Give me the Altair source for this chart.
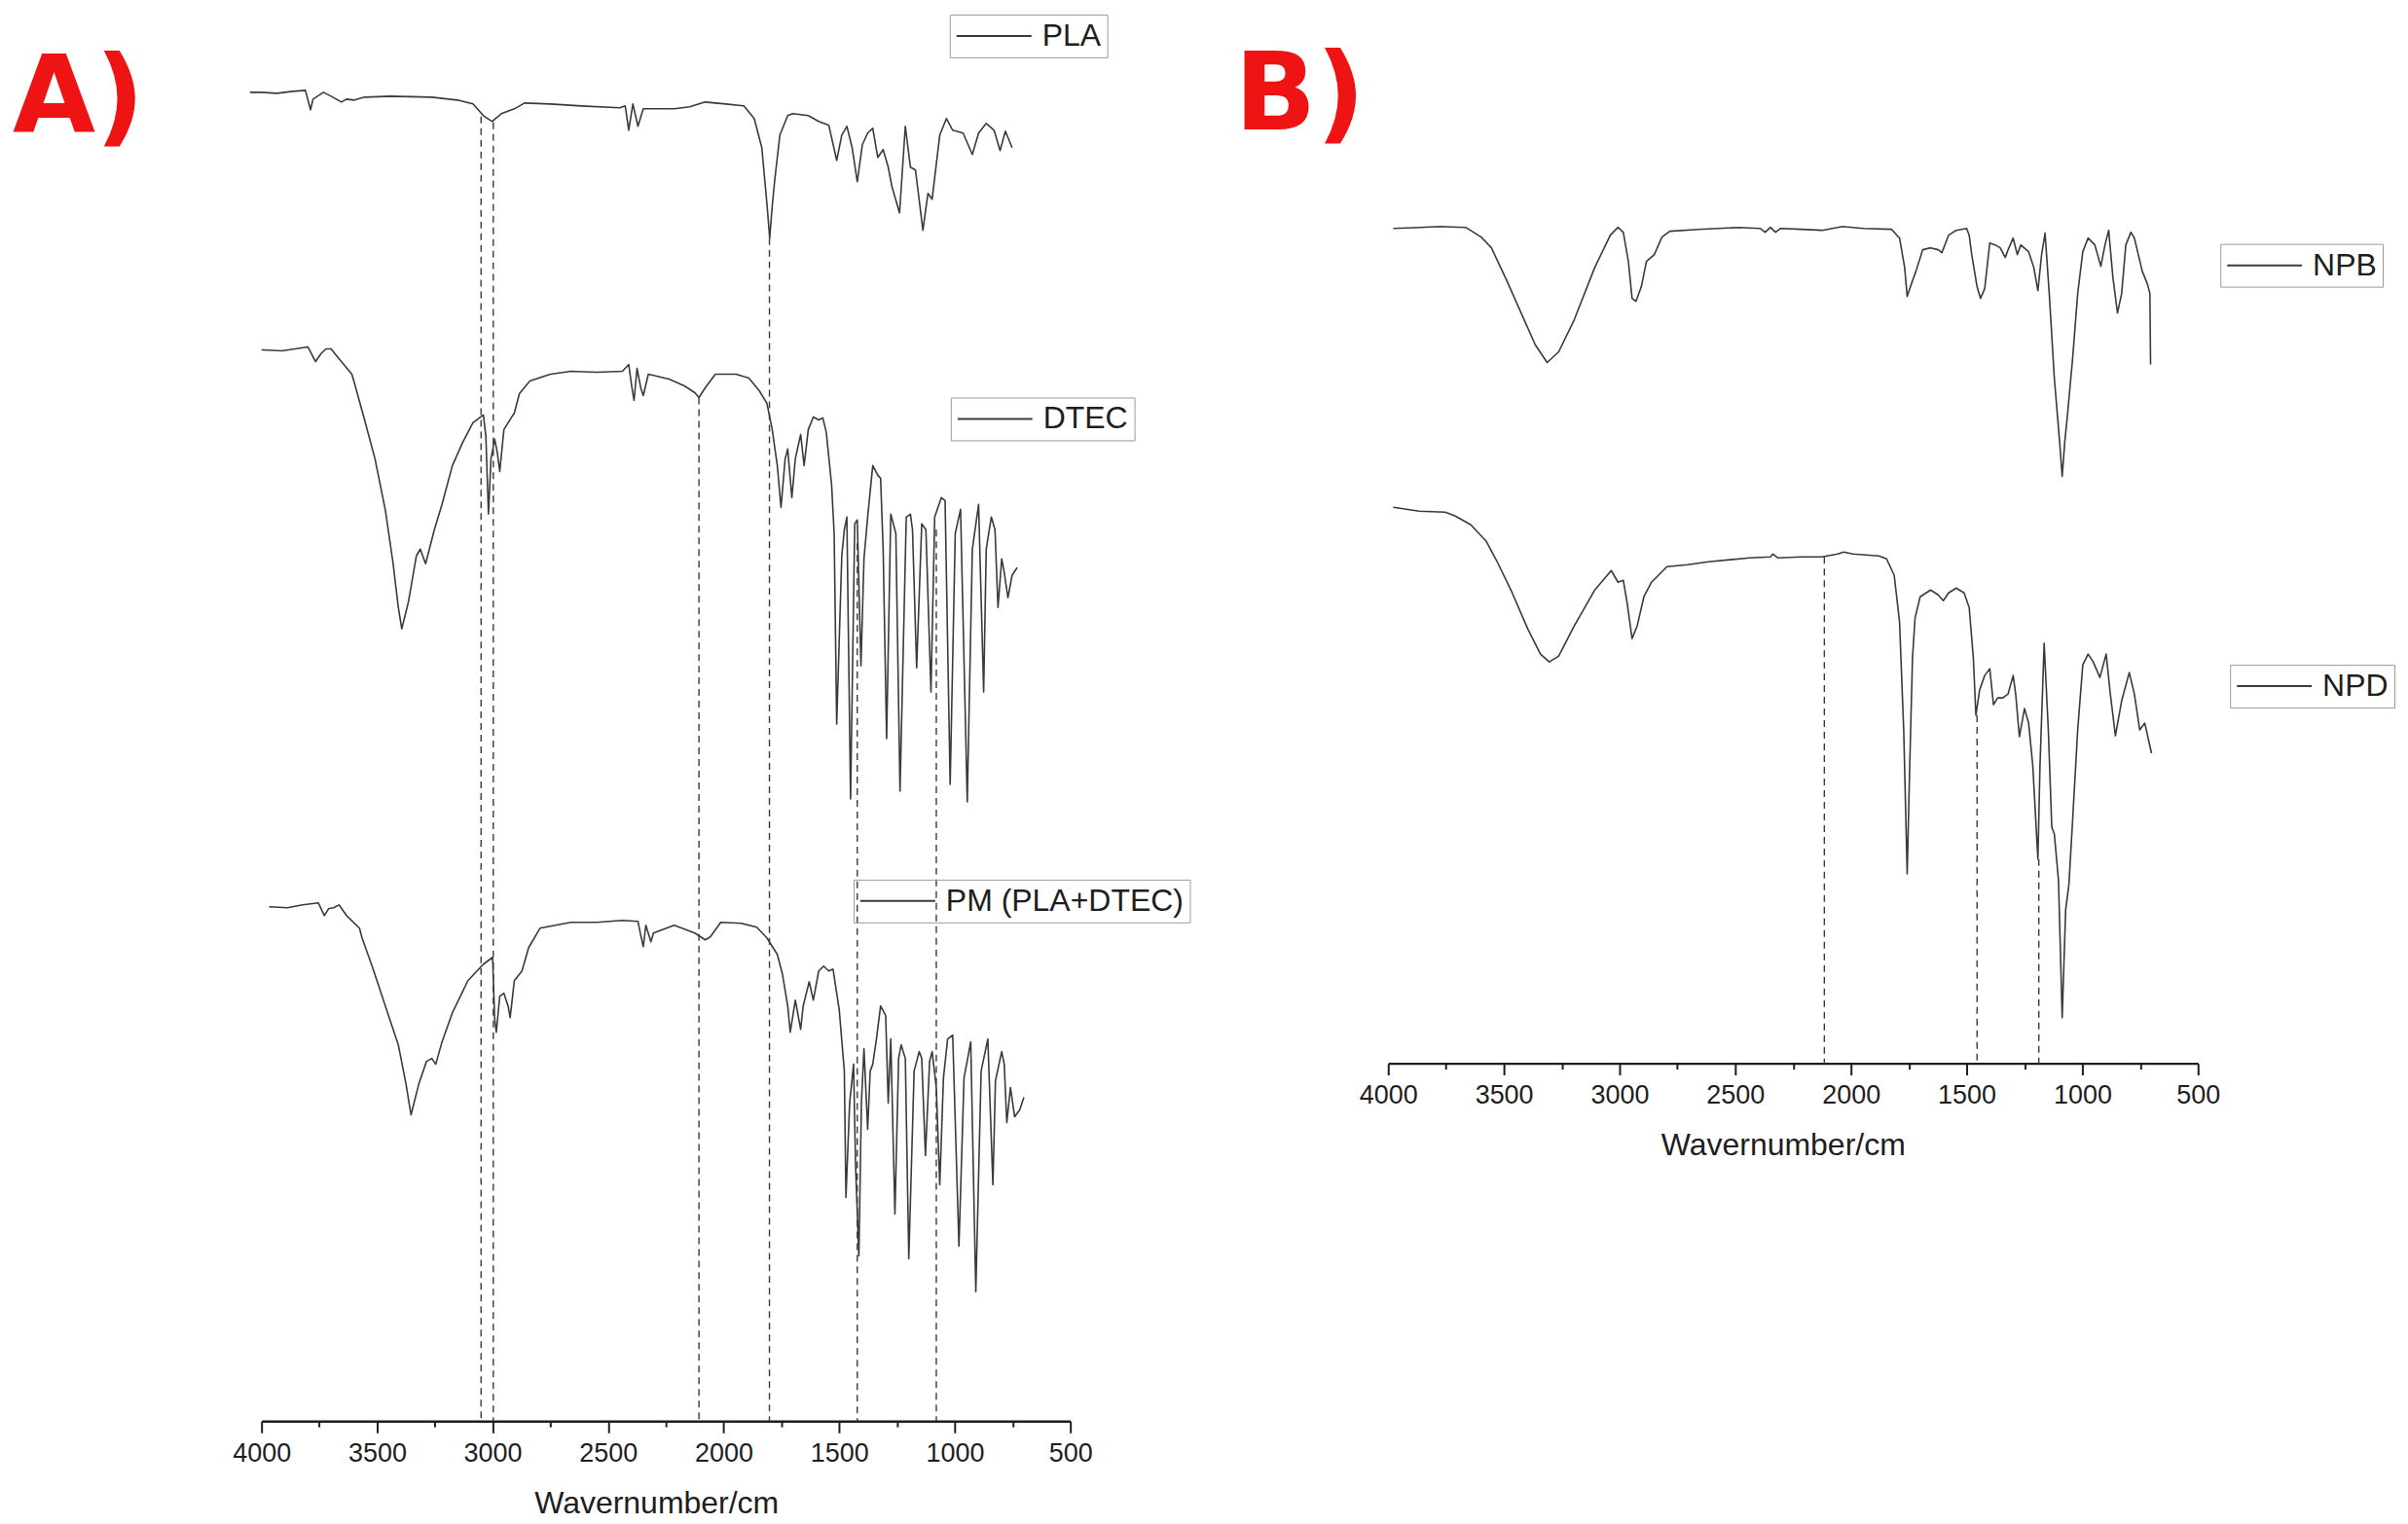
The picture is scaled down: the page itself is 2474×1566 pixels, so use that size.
import altair as alt
import pandas as pd

FONT = "Liberation Sans"
LABEL_FONT = "DejaVu Sans"
INK = "#1e1e1e"
LINE = "#3a3a3a"
RED = "#ee1414"

# axis tick positions (major every 500, minor every 250)
AXIS_TICKS = [4000, 3750, 3500, 3250, 3000, 2750, 2500, 2250, 2000,
              1750, 1500, 1250, 1000, 750, 500]

# ---------------- Panel A spectra (wavenumber, transmittance a.u.) ----------------
PLA_WN = [4050, 4000, 3933, 3866, 3810, 3788, 3777, 3732, 3699, 3654,
          3632, 3598, 3554, 3442, 3263, 3152, 3085, 3040, 3002, 2962,
          2906, 2862, 2750, 2616, 2449, 2426, 2411, 2393, 2371, 2348,
          2214, 2147, 2080, 1991, 1913, 1868, 1835, 1812, 1801, 1790,
          1779, 1757, 1723, 1701, 1634, 1589, 1545, 1511, 1489, 1467,
          1444, 1422, 1400, 1377, 1355, 1333, 1310, 1288, 1272, 1239,
          1214, 1192, 1170, 1138, 1116, 1098, 1065, 1036, 1009, 964,
          924, 897, 864, 830, 804, 781, 752]
PLA_T = [1367, 1367, 1366, 1368, 1369, 1349, 1360, 1367, 1363, 1357,
         1360, 1359, 1362, 1363, 1362, 1359, 1355, 1343, 1337, 1345,
         1350, 1356, 1355, 1353, 1351, 1353, 1328, 1355, 1332, 1350,
         1350, 1352, 1357, 1355, 1353, 1340, 1310, 1250, 1217, 1250,
         1277, 1323, 1343, 1345, 1343, 1337, 1333, 1297, 1323, 1332,
         1310, 1275, 1313, 1325, 1330, 1300, 1308, 1290, 1270, 1243,
         1332, 1290, 1287, 1225, 1263, 1257, 1323, 1340, 1328, 1325,
         1303, 1325, 1335, 1328, 1307, 1327, 1310]

DTEC_WN = [4000, 3911, 3799, 3766, 3743, 3721, 3699, 3665, 3609, 3598,
           3554, 3509, 3464, 3431, 3408, 3393, 3364, 3330, 3313, 3290,
           3252, 3219, 3174, 3129, 3085, 3040, 3029, 3018, 3007, 2991,
           2980, 2969, 2951, 2917, 2906, 2884, 2839, 2750, 2661, 2549,
           2438, 2411, 2397, 2388, 2375, 2359, 2348, 2326, 2237, 2170,
           2125, 2107, 2080, 2036, 1946, 1891, 1846, 1813, 1790, 1768,
           1752, 1734, 1723, 1705, 1690, 1667, 1652, 1634, 1612, 1589,
           1571, 1556, 1533, 1522, 1511, 1489, 1478, 1467, 1451, 1433,
           1422, 1406, 1393, 1377, 1355, 1333, 1321, 1310, 1295, 1277,
           1255, 1237, 1210, 1192, 1183, 1165, 1143, 1125, 1103, 1087,
           1058, 1042, 1020, 998, 975, 946, 924, 897, 875, 864,
           842, 826, 813, 797, 786, 770, 752, 730]
DTEC_T = [1102, 1101, 1105, 1090, 1098, 1103, 1103, 1093, 1077, 1068,
          1030, 990, 937, 883, 837, 815, 843, 890, 897, 882,
          917, 943, 983, 1007, 1027, 1035, 1013, 933, 990, 1010,
          997, 977, 1020, 1033, 1037, 1057, 1070, 1077, 1080, 1079,
          1080, 1087, 1063, 1050, 1083, 1063, 1055, 1077, 1072, 1065,
          1058, 1053, 1063, 1077, 1077, 1073, 1060, 1047, 1020, 983,
          940, 990, 1000, 950, 990, 1015, 983, 1020, 1033, 1030,
          1032, 1017, 963, 913, 717, 890, 917, 930, 640, 923,
          927, 777, 887, 930, 983, 973, 970, 897, 702, 933,
          913, 648, 930, 933, 917, 775, 923, 917, 750, 930,
          950, 947, 655, 913, 938, 637, 897, 943, 750, 897,
          930, 917, 837, 887, 873, 847, 870, 878]

PM_WN = [3967, 3888, 3821, 3754, 3728, 3710, 3688, 3665, 3632, 3576,
         3565, 3520, 3464, 3408, 3375, 3353, 3319, 3286, 3263, 3246,
         3219, 3174, 3107, 3040, 3000, 2991, 2984, 2969, 2951, 2933,
         2924, 2906, 2873, 2844, 2795, 2661, 2549, 2438, 2371, 2359,
         2348, 2337, 2315, 2304, 2214, 2125, 2080, 2058, 2013, 1924,
         1857, 1813, 1768, 1746, 1723, 1712, 1690, 1667, 1656, 1630,
         1612, 1589, 1567, 1545, 1527, 1500, 1478, 1471, 1455, 1438,
         1429, 1415, 1404, 1393, 1377, 1366, 1355, 1339, 1321, 1299,
         1288, 1277, 1259, 1243, 1232, 1214, 1199, 1176, 1154, 1143,
         1127, 1109, 1098, 1080, 1065, 1049, 1031, 1009, 982, 960,
         931, 909, 886, 857, 835, 824, 797, 786, 775, 759,
         741, 719, 701]
PM_T = [529, 528, 531, 533, 520, 527, 528, 531, 520, 507,
        497, 467, 427, 387, 347, 315, 347, 370, 373, 367,
        390, 420, 453, 470, 477, 413, 400, 437, 440, 427,
        415, 453, 463, 487, 507, 513, 513, 515, 514, 500,
        488, 510, 493, 502, 510, 502, 495, 498, 513, 512,
        508, 497, 480, 460, 427, 400, 433, 403, 427, 452,
        433, 463, 468, 463, 465, 423, 360, 230, 327, 367,
        260, 170, 327, 383, 300, 360, 367, 393, 427, 417,
        327, 393, 213, 373, 387, 373, 167, 360, 380, 373,
        273, 370, 380, 343, 243, 353, 393, 397, 180, 353,
        390, 133, 360, 393, 243, 350, 380, 367, 307, 343,
        313, 320, 333]

# dashed reference lines, panel A (wavenumber, top of line)
A_DASH_WN = [3050, 2997, 2107, 1802, 1422, 1080]
A_DASH_TOP = [1342, 1336, 1053, 1217, 903, 917]

# ---------------- Panel B spectra ----------------
NPB_WN = [3978, 3866, 3777, 3665, 3598, 3554, 3487, 3420, 3364, 3313,
          3263, 3196, 3107, 3040, 3007, 2984, 2962, 2946, 2929, 2906,
          2884, 2850, 2817, 2783, 2661, 2482, 2393, 2371, 2348, 2326,
          2304, 2214, 2125, 2036, 1946, 1824, 1790, 1768, 1757, 1734,
          1719, 1690, 1656, 1623, 1607, 1578, 1545, 1500, 1489, 1478,
          1455, 1440, 1422, 1400, 1377, 1355, 1333, 1321, 1299, 1281,
          1266, 1232, 1210, 1192, 1176, 1161, 1143, 1121, 1098, 1087,
          1076, 1065, 1042, 1020, 998, 975, 946, 920, 902, 886,
          868, 848, 830, 812, 790, 775, 741, 719, 708, 705]
NPB_T = [859, 860, 861, 860, 850, 839, 805, 769, 739, 721,
         732, 765, 819, 852, 860, 855, 825, 787, 784, 799,
         825, 832, 850, 856, 858, 860, 859, 855, 860, 855,
         859, 858, 857, 861, 859, 858, 849, 819, 789, 805,
         815, 837, 839, 837, 834, 852, 857, 859, 852, 832,
         799, 787, 797, 844, 842, 839, 829, 837, 849, 832,
         842, 835, 819, 795, 832, 854, 792, 705, 639, 604,
         639, 665, 725, 792, 835, 849, 842, 820, 842, 857,
         809, 772, 792, 842, 855, 849, 815, 802, 792, 719]

NPD_WN = [3978, 3866, 3754, 3710, 3643, 3576, 3531, 3464, 3397, 3342,
          3304, 3263, 3196, 3107, 3036, 3007, 2984, 2967, 2946, 2924,
          2895, 2862, 2795, 2705, 2616, 2438, 2348, 2337, 2315, 2214,
          2125, 2058, 2031, 1991, 1879, 1846, 1813, 1790, 1772, 1757,
          1746, 1734, 1723, 1701, 1656, 1623, 1601, 1578, 1545, 1511,
          1489, 1471, 1460, 1444, 1422, 1400, 1384, 1366, 1344, 1321,
          1299, 1288, 1272, 1250, 1232, 1214, 1192, 1183, 1165, 1147,
          1132, 1121, 1103, 1087, 1072, 1058, 1042, 1020, 998, 975,
          953, 924, 897, 879, 857, 830, 797, 775, 752, 730,
          701]
NPD_T = [572, 568, 567, 563, 554, 537, 517, 484, 447, 421,
         413, 419, 450, 487, 507, 495, 497, 473, 437, 450,
         480, 495, 511, 513, 516, 520, 521, 524, 520, 521,
         521, 524, 526, 524, 522, 519, 502, 454, 343, 195,
         306, 417, 458, 480, 487, 482, 476, 484, 489, 484,
         469, 417, 358, 384, 399, 406, 369, 376, 376, 380,
         399, 380, 336, 365, 350, 306, 210, 306, 432, 343,
         243, 236, 188, 47, 158, 184, 250, 343, 410, 421,
         413, 397, 421, 380, 337, 373, 402, 380, 343, 350,
         319]

B_DASH_WN = [2115, 1455, 1188]
B_DASH_TOP = [521, 358, 210]

A_W, A_H = 832, 1447
B_W, B_H = 833, 1079


def x_enc():
    return alt.X(
        "wn:Q",
        scale=alt.Scale(domain=[500, 4000], reverse=True, nice=False, zero=False),
        axis=alt.Axis(
            values=AXIS_TICKS,
            format="d",
            labelExpr="datum.value % 500 === 0 ? datum.label : ''",
            tickSize=12, tickWidth=2, tickColor=INK,
            tickDash={"condition": {"test": "datum.value % 500 !== 0", "value": [6, 40]},
                      "value": [1, 0]},
            domainColor=INK, domainWidth=2.5,
            labelFont=FONT, labelFontSize=27, labelColor=INK, labelPadding=8,
            labelFlush=False, labelOverlap=False,
            grid=False,
            title="Wavernumber/cm", titleFont=FONT, titleFontSize=32,
            titleFontWeight="normal", titleColor=INK,
            titleX=406, titleY=94, titleAlign="center", titleBaseline="alphabetic",
        ),
    )


def spectrum(name, wn, t, ymax, lx, ly):
    df = pd.DataFrame({"wn": wn, "T": t, "sample": name})
    return alt.Chart(df).mark_line(strokeWidth=1.6, strokeJoin="round").encode(
        x=x_enc(),
        y=alt.Y("T:Q", scale=alt.Scale(domain=[0, ymax], nice=False, zero=False), axis=None),
        color=alt.Color(
            "sample:N",
            scale=alt.Scale(domain=[name], range=[LINE]),
            legend=alt.Legend(
                title=None, orient="none", legendX=lx, legendY=ly,
                symbolType="stroke", symbolSize=5929, symbolStrokeWidth=2,
                clipHeight=32, padding=6, labelOffset=10, labelLimit=500,
                labelFont=FONT, labelFontSize=32, labelColor=INK,
                strokeColor="#9a9a9a",
            ),
        ),
    )


def dashes(wn, top, ymax):
    df = pd.DataFrame({"wn": wn, "top": top, "base": [0] * len(wn)})
    return alt.Chart(df).mark_rule(strokeDash=[7, 5], strokeWidth=1.4, color=LINE).encode(
        x=x_enc(),
        y=alt.Y("top:Q", scale=alt.Scale(domain=[0, ymax], nice=False, zero=False), axis=None),
        y2="base:Q",
    )


def panel_title(text, dx, dy):
    return alt.TitleParams(
        text=text, anchor="start", frame="group", orient="top", offset=0,
        dx=dx, dy=dy, baseline="alphabetic",
        font=LABEL_FONT, fontSize=110, fontWeight="bold", color=RED,
    )


panel_a = alt.layer(
    dashes(A_DASH_WN, A_DASH_TOP, A_H),
    spectrum("PLA", PLA_WN, PLA_T, A_H, 708, 0),
    spectrum("DTEC", DTEC_WN, DTEC_T, A_H, 709, 394),
    spectrum("PM (PLA+DTEC)", PM_WN, PM_T, A_H, 609, 890),
).resolve_scale(color="independent").properties(
    width=A_W, height=A_H, title=panel_title("A)", -256, 232)
)

panel_b = alt.layer(
    dashes(B_DASH_WN, B_DASH_TOP, B_H),
    spectrum("NPB", NPB_WN, NPB_T, B_H, 856, 236),
    spectrum("NPD", NPD_WN, NPD_T, B_H, 866, 669),
).resolve_scale(color="independent").properties(
    width=B_W, height=B_H, title=panel_title("B)", -158, 228)
)

chart = alt.hconcat(panel_a, panel_b, spacing=327, bounds="flush").properties(
    padding=5, background="white"
).configure_view(stroke=None)

chart.save("out.html", embed_options={"renderer": "svg", "actions": False})
